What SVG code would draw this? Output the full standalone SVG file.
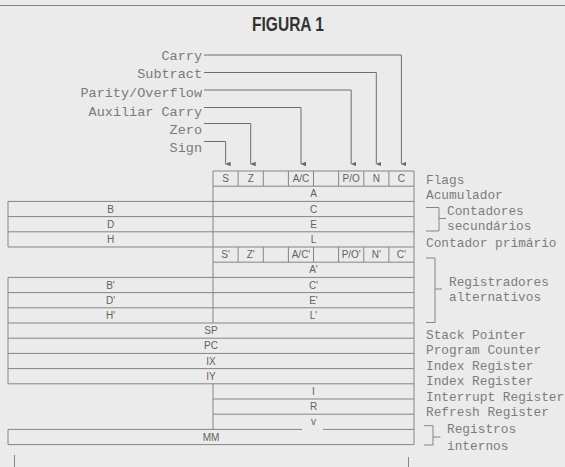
<svg xmlns="http://www.w3.org/2000/svg" width="565" height="467" viewBox="0 0 565 467">
<defs>
<marker id="ah" markerWidth="6" markerHeight="6" refX="3" refY="5" orient="auto" markerUnits="userSpaceOnUse" viewBox="0 0 6 6">
<path d="M0.8,0 L5.2,0 L3,5.5 Z" fill="#666"/>
</marker>
<style>
.bg{fill:#ebebeb}
.ln{stroke:#858585;stroke-width:1;fill:none}
.cn{stroke:#6e6e6e;stroke-width:1;fill:none}
.t{font-family:"Liberation Sans",Arial,sans-serif;font-size:10px;fill:#626262;text-anchor:middle}
.lm{font-family:"Liberation Mono","Courier New",monospace;font-size:13.5px;fill:#7a7a7a;text-anchor:end}
.rm{font-family:"Liberation Mono","Courier New",monospace;font-size:12.8px;fill:#7c7c7c}
.ttl{font-family:"Liberation Sans",Arial,sans-serif;font-size:20px;font-weight:bold;fill:#333;text-anchor:middle}
</style>
</defs>
<rect class="bg" x="0" y="0" width="565" height="467"/>
<line class="ln" x1="0" y1="5.5" x2="565" y2="5.5"/>
<text class="ttl" x="288" y="30.5" textLength="72" lengthAdjust="spacingAndGlyphs">FIGURA 1</text>

<g id="flag-labels">
<text class="lm" x="202" y="60">Carry</text>
<text class="lm" x="202" y="78">Subtract</text>
<text class="lm" x="202" y="97">Parity/Overflow</text>
<text class="lm" x="202" y="115.5">Auxiliar Carry</text>
<text class="lm" x="202" y="134">Zero</text>
<text class="lm" x="202" y="152">Sign</text>
</g>

<g id="connectors">
<path class="cn" d="M204,55 H401.4 V164" marker-end="url(#ah)"/>
<path class="cn" d="M204,72.5 H376.3 V164" marker-end="url(#ah)"/>
<path class="cn" d="M204,90 H351.2 V164" marker-end="url(#ah)"/>
<path class="cn" d="M204,107.5 H301 V164" marker-end="url(#ah)"/>
<path class="cn" d="M204,123.5 H250.7 V164" marker-end="url(#ah)"/>
<path class="cn" d="M204,141.5 H225.6 V164" marker-end="url(#ah)"/>
</g>

<g id="register-table">
<line class="ln" x1="213" y1="171" x2="414" y2="171"/>
<line class="ln" x1="213" y1="186.2" x2="414" y2="186.2"/>
<line class="ln" x1="8" y1="201.4" x2="414" y2="201.4"/>
<line class="ln" x1="8" y1="216.6" x2="414" y2="216.6"/>
<line class="ln" x1="8" y1="231.8" x2="414" y2="231.8"/>
<line class="ln" x1="8" y1="247" x2="414" y2="247"/>
<line class="ln" x1="213" y1="262.2" x2="414" y2="262.2"/>
<line class="ln" x1="8" y1="277.4" x2="414" y2="277.4"/>
<line class="ln" x1="8" y1="292.6" x2="414" y2="292.6"/>
<line class="ln" x1="8" y1="307.8" x2="414" y2="307.8"/>
<line class="ln" x1="8" y1="323" x2="414" y2="323"/>
<line class="ln" x1="8" y1="338.2" x2="414" y2="338.2"/>
<line class="ln" x1="8" y1="353.4" x2="414" y2="353.4"/>
<line class="ln" x1="8" y1="368.6" x2="414" y2="368.6"/>
<line class="ln" x1="8" y1="383.8" x2="414" y2="383.8"/>
<line class="ln" x1="213" y1="399" x2="414" y2="399"/>
<line class="ln" x1="213" y1="414.2" x2="414" y2="414.2"/>
<line class="ln" x1="8" y1="429.4" x2="302" y2="429.4"/>
<line class="ln" x1="323" y1="429.4" x2="414" y2="429.4"/>
<line class="ln" x1="8" y1="444.6" x2="414" y2="444.6"/>
<line class="ln" x1="8" y1="201.4" x2="8" y2="247"/>
<line class="ln" x1="8" y1="277.4" x2="8" y2="383.8"/>
<line class="ln" x1="8" y1="429.4" x2="8" y2="444.6"/>
<line class="ln" x1="213" y1="171" x2="213" y2="323"/>
<line class="ln" x1="213" y1="383.8" x2="213" y2="429.4"/>
<line class="ln" x1="414" y1="171" x2="414" y2="444.6"/>
<path class="ln" d="M238.1,171V186.2M263.3,171V186.2M288.4,171V186.2M313.5,171V186.2M338.6,171V186.2M363.8,171V186.2M388.9,171V186.2"/>
<path class="ln" d="M238.1,247V262.2M263.3,247V262.2M288.4,247V262.2M313.5,247V262.2M338.6,247V262.2M363.8,247V262.2M388.9,247V262.2"/>
</g>

<g id="register-names">
<text class="t" x="225.6" y="182.2">S</text>
<text class="t" x="250.7" y="182.2">Z</text>
<text class="t" x="301" y="182.2">A/C</text>
<text class="t" x="351.2" y="182.2">P/O</text>
<text class="t" x="376.3" y="182.2">N</text>
<text class="t" x="401.4" y="182.2">C</text>
<text class="t" x="313.5" y="197.4">A</text>
<text class="t" x="110.5" y="212.6">B</text>
<text class="t" x="313.5" y="212.6">C</text>
<text class="t" x="110.5" y="227.8">D</text>
<text class="t" x="313.5" y="227.8">E</text>
<text class="t" x="110.5" y="243">H</text>
<text class="t" x="313.5" y="243">L</text>
<text class="t" x="225.6" y="258.2">S'</text>
<text class="t" x="250.7" y="258.2">Z'</text>
<text class="t" x="301" y="258.2">A/C'</text>
<text class="t" x="351.2" y="258.2">P/O'</text>
<text class="t" x="376.3" y="258.2">N'</text>
<text class="t" x="401.4" y="258.2">C'</text>
<text class="t" x="313.5" y="273.4">A'</text>
<text class="t" x="110.5" y="288.6">B'</text>
<text class="t" x="313.5" y="288.6">C'</text>
<text class="t" x="110.5" y="303.8">D'</text>
<text class="t" x="313.5" y="303.8">E'</text>
<text class="t" x="110.5" y="319">H'</text>
<text class="t" x="313.5" y="319">L'</text>
<text class="t" x="211" y="334.2">SP</text>
<text class="t" x="211" y="349.4">PC</text>
<text class="t" x="211" y="364.6">IX</text>
<text class="t" x="211" y="379.8">IY</text>
<text class="t" x="313.5" y="395">I</text>
<text class="t" x="313.5" y="410.2">R</text>
<text class="t" x="313.5" y="425.4">v</text>
<text class="t" x="211" y="440.6">MM</text>
</g>

<g id="right-labels">
<text class="rm" x="426" y="183.5">Flags</text>
<text class="rm" x="426" y="198.5">Acumulador</text>
<path class="ln" d="M426,207.5H439V231H426M439,218.5H446"/>
<text class="rm" x="447" y="215">Contadores</text>
<text class="rm" x="447" y="230">secundários</text>
<text class="rm" x="426" y="247">Contador primário</text>
<path class="ln" d="M426,258H435V322.5H426M435,289H442"/>
<text class="rm" x="449" y="286">Registradores</text>
<text class="rm" x="449" y="300.5">alternativos</text>
<text class="rm" x="426" y="338.5">Stack Pointer</text>
<text class="rm" x="426" y="354">Program Counter</text>
<text class="rm" x="426" y="369.5">Index Register</text>
<text class="rm" x="426" y="385">Index Register</text>
<text class="rm" x="426" y="400.5">Interrupt Register</text>
<text class="rm" x="426" y="416">Refresh Register</text>
<path class="ln" d="M424,425.7H433V445H424M433,437H440.5"/>
<text class="rm" x="447" y="433">Registros</text>
<text class="rm" x="447" y="449.5">internos</text>
</g>

<line class="ln" x1="14.5" y1="455" x2="14.5" y2="467"/>
<line class="ln" x1="408.5" y1="457" x2="408.5" y2="467"/>
</svg>
